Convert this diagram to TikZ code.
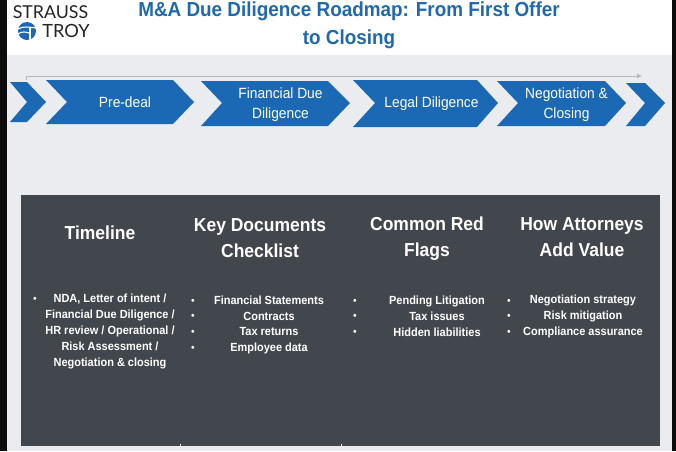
\documentclass[tikz,border=0pt]{standalone}
\usepackage{fontspec}
\setmainfont[FakeStretch=0.93]{Liberation Sans}
\newfontfamily\logofont{Lato}
\usepackage{xcolor}
\usetikzlibrary{arrows.meta}
\definecolor{roadblue}{HTML}{1B68B5}
\definecolor{titleblue}{HTML}{1E69B0}
\definecolor{stripblack}{HTML}{0C0C0C}
\definecolor{pagegrey}{HTML}{EAECEF}
\definecolor{panelgrey}{HTML}{42474D}
\definecolor{rulegrey}{HTML}{B4B6B9}
\definecolor{logoink}{HTML}{262626}
\tikzset{
  chevron/.style={fill=roadblue},
  steplabel/.style={text=white,align=center,font=\fontsize{14.8}{19.5}\selectfont},
  headlabel/.style={text=white,align=center,font=\bfseries\fontsize{18.8}{26}\selectfont},
  itemlabel/.style={text=white,align=center,font=\bfseries\fontsize{11.8}{15.8}\selectfont},
  bulletlabel/.style={text=white,font=\fontsize{11}{15.8}\selectfont,inner sep=0pt},
}

\begin{document}
\begin{tikzpicture}[x=1pt,y=-1pt]
  \useasboundingbox (0,0) rectangle (676,451);

  % Page
  \fill[white] (0,0) rectangle (676,451);
  \fill[pagegrey] (7,55) rectangle (672,451);
  \fill[stripblack] (0,0) rectangle (7,451);
  \fill[stripblack] (672,0) rectangle (676,451);

  % Logo
  \node[text=logoink,font=\logofont\fontsize{17.8}{17.8}\selectfont,inner sep=0pt] (strauss) at (50.5,12.5) {STRAUSS};
  \node[text=logoink,font=\logofont\fontsize{18.2}{18.2}\selectfont,inner sep=0pt] (troy) at (66,31) {TROY};
  \fill[roadblue] (27,31) circle (9);
  \draw[white,line width=1.1pt] (18,29) .. controls (23,26) and (29,27) .. (36,28);
  \draw[white,line width=1.1pt] (18,34) .. controls (22,31) and (26,32) .. (29,33);
  \draw[white,line width=1.1pt] (30,28) -- (30,40);

  % Title
  \node[text=titleblue,align=center,font=\bfseries\fontsize{20.3}{28}\selectfont] (title) at (349,25)
    {M\&A Due Diligence Roadmap: From First Offer\\to Closing};

  % Line over the steps
  \coordinate (ruleA) at (26,79.5);
  \coordinate (ruleB) at (26,76);
  \coordinate (ruleC) at (642,76);
  \draw[rulegrey,line width=0.8pt,-{Latex[length=5pt,width=5pt]}] (ruleA) -- (ruleB) -- (ruleC);

  % Steps
  \fill[chevron] (10,82) -- (27,82) -- (46,102) -- (27,122) -- (10,122) -- (27,102) -- cycle;
  \fill[chevron] (46,80) -- (173,80) -- (194,102) -- (173,124) -- (46,124) -- (67,102) -- cycle;
  \fill[chevron] (201,81) -- (328,81) -- (350,103) -- (328,126) -- (201,126) -- (222,103) -- cycle;
  \fill[chevron] (353,80) -- (477,80) -- (498,103) -- (477,127) -- (353,127) -- (375,103) -- cycle;
  \fill[chevron] (497,81) -- (605,81) -- (626,103) -- (605,126) -- (497,126) -- (518,103) -- cycle;
  \fill[chevron] (626,83) -- (645,83) -- (665,103) -- (645,126) -- (626,126) -- (645,103) -- cycle;

  \node[steplabel] (predeal) at (125,102.5) {Pre-deal};
  \node[steplabel] (financial) at (280.5,104.5) {Financial Due\\Diligence};
  \node[steplabel] (legal) at (431.5,104) {Legal Diligence};
  \node[steplabel] (closing) at (566.5,104.5) {Negotiation \&\\Closing};

  % Panel
  \fill[panelgrey] (21,195) rectangle (660,446);
  \draw[pagegrey,line width=0.6pt] (180,444) -- (180,446);
  \draw[pagegrey,line width=0.6pt] (341,444) -- (341,446);

  % Headings
  \node[headlabel] (timeline) at (100,232.5) {Timeline};
  \node[headlabel] (documents) at (260,238.5) {Key Documents\\Checklist};
  \node[headlabel] (flags) at (427,239) {Common Red\\Flags};
  \node[headlabel] (value) at (582,237.5) {How Attorneys\\Add Value};

  % Lists
  \node[itemlabel] (timelineitems) at (110,331.5) {NDA, Letter of intent /\\Financial Due Diligence /\\HR review / Operational /\\Risk Assessment /\\Negotiation \& closing};
  \node[itemlabel] (documentitems) at (269,325) {Financial Statements\\Contracts\\Tax returns\\Employee data};
  \node[itemlabel] (flagitems) at (437,316.5) {Pending Litigation\\Tax issues\\Hidden liabilities};
  \node[itemlabel] (valueitems) at (583,316.5) {Negotiation strategy\\Risk mitigation\\Compliance assurance};

  % Bullets
  \node[bulletlabel] (bulletT) at (35,300) {•};
  \foreach \y [count=\n] in {301.5,317,333,349} \node[bulletlabel] (bulletD\n) at (193,\y) {•};
  \foreach \y [count=\n] in {301.5,317,332.5} \node[bulletlabel] (bulletF\n) at (355,\y) {•};
  \foreach \y [count=\n] in {301.5,317,332.5} \node[bulletlabel] (bulletV\n) at (509,\y) {•};
\end{tikzpicture}
\end{document}
